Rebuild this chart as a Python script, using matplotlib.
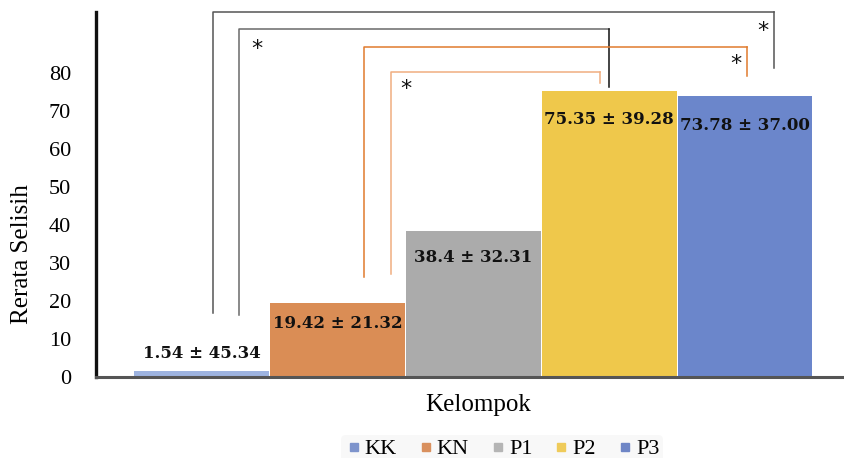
import matplotlib
matplotlib.use("Agg")
import matplotlib.pyplot as plt
from matplotlib.lines import Line2D

# Group means and standard deviations
groups = ["KK", "KN", "P1", "P2", "P3"]
means = [1.54, 19.42, 38.4, 75.35, 73.78]
sds = [45.34, 21.32, 32.31, 39.28, 37.00]
colors = ["#9DB3E0", "#DA8D55", "#ABABAB", "#EFC84B", "#6B86CB"]
legend_colors = ["#7E94CC", "#D9905E", "#B5B5B5", "#EFCB5A", "#6F86C6"]
yticks = [0, 10, 20, 30, 40, 50, 60, 70, 80]

# Significance brackets: (x_left, x_right, top, left_bottom, right_bottom, colour, right_leg_colour)
brackets = [
    (0.085, 4.212, 95.9, 16.8, 81.3, "#555555", "#555555"),
    (0.276, 2.999, 91.6, 16.3, 76.3, "#6a6a6a", "#111111"),
    (1.196, 4.014, 86.9, 26.3, 79.2, "#E07B2E", "#E07B2E"),
    (1.394, 2.932, 80.3, 27.1, 77.4, "#F0AE80", "#F0AE80"),
]
stars = [(0.41, 86.3), (1.505, 75.8), (3.933, 82.4), (4.13, 91.1)]

serif = ["Liberation Serif", "DejaVu Serif"]

fig = plt.figure(figsize=(8.45, 4.58), dpi=100)
ax = fig.add_axes([96 / 845, 1 - 377 / 458, 747 / 845, 365 / 458])

x = list(range(len(groups)))
ax.bar(x, means, width=0.99, color=colors, edgecolor="none", zorder=2)

ax.set_xlim(-0.776, 4.72)
ax.set_ylim(0, 96)
ax.set_xticks([])
ax.set_yticks(yticks)
ax.set_yticklabels([str(t) for t in yticks], family=serif, fontsize=16)
ax.tick_params(axis="y", length=0, pad=18)

for s in ["top", "right"]:
    ax.spines[s].set_visible(False)
ax.spines["left"].set_linewidth(2.4)
ax.spines["left"].set_color("#111111")
ax.spines["bottom"].set_linewidth(2.2)
ax.spines["bottom"].set_color("#555555")
ax.spines["left"].set_zorder(5)
ax.spines["bottom"].set_zorder(5)

ax.set_ylabel("Rerata Selisih", family=serif, fontsize=18, va="center")
ax.yaxis.set_label_coords(-0.099, 0.337)
ax.set_xlabel("Kelompok", family=serif, fontsize=18)
ax.xaxis.set_label_coords(0.511, -0.047)

# Value labels (mean ± SD)
offsets = [18, -20, -27, -29, -29]
for i, (m, s) in enumerate(zip(means, sds)):
    ax.annotate(f"{m:g} \u00b1 {s:.2f}", xy=(i, m), xytext=(0, offsets[i]),
                textcoords="offset pixels", ha="center", va="center",
                family=["DejaVu Serif"], fontweight="bold", fontsize=12,
                color="#111111", zorder=6)

for x0, x1, top, b0, b1, c, rc in brackets:
    ax.plot([x0, x0, x1], [b0, top, top], color=c, lw=1.1, clip_on=False, zorder=3)
    ax.plot([x1, x1], [top, b1], color=rc, lw=1.1, clip_on=False, zorder=3)

for sx, sy in stars:
    ax.text(sx, sy, "*", ha="center", va="center", fontsize=16,
            family=["DejaVu Sans"], color="#111111", zorder=6)

handles = [Line2D([], [], marker="s", linestyle="none", markersize=6,
                  markerfacecolor=c, markeredgecolor=c) for c in legend_colors]
leg = fig.legend(handles, groups, loc="center", bbox_to_anchor=(502 / 845, 1 - 449 / 458),
                 ncol=5, frameon=True, prop={"family": serif, "size": 16},
                 handletextpad=0.1, columnspacing=0.9, handlelength=0.8,
                 borderpad=0.15, borderaxespad=0)
leg.get_frame().set_facecolor("#f7f7f7")
leg.get_frame().set_edgecolor("none")

fig.savefig("out.png", dpi=100)
